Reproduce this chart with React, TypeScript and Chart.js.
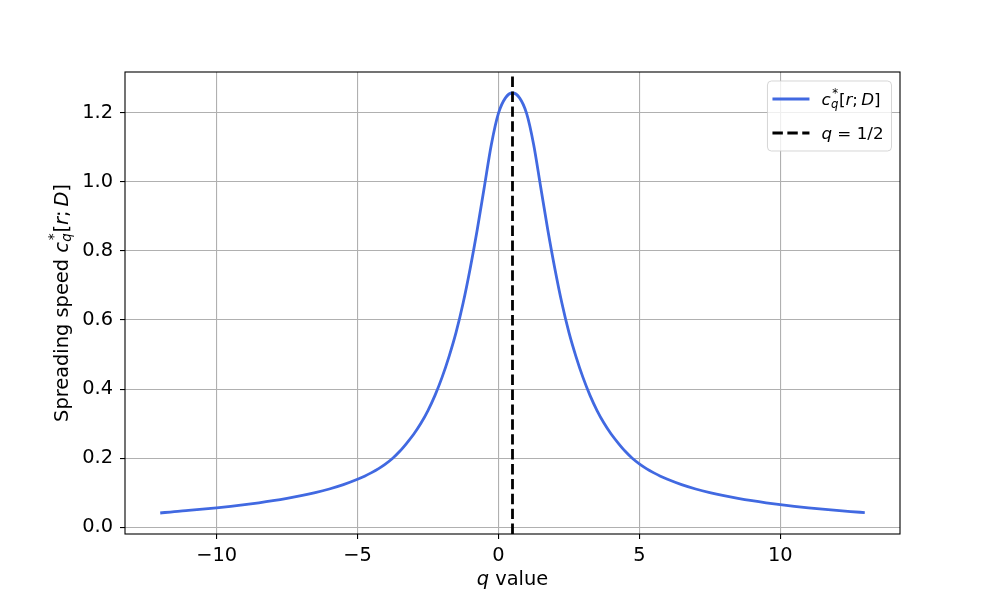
import React, { useEffect, useRef } from "react";
import { Chart, registerables } from "chart.js";

Chart.register(...registerables);

// ---- data ----
const qValues = [
  -12, -11.5, -11, -10.5, -10, -9.5, -9, -8.5, -8, -7.5, -7, -6.5, -6, -5.5, -5,
  -4.75, -4.5, -4.25, -4, -3.75, -3.5, -3.25, -3, -2.75, -2.5, -2.25, -2, -1.75, -1.5, -1.25,
  -1, -0.75, -0.5, -0.25, 0, 0.25, 0.5, 0.75, 1, 1.25, 1.5, 1.75, 2, 2.25, 2.5, 2.75, 3,
  3.25, 3.5, 3.75, 4, 4.25, 4.5, 4.75, 5, 5.25, 5.5, 5.75,
  6, 6.5, 7, 7.5, 8, 8.5, 9, 9.5, 10, 10.5, 11, 11.5, 12, 12.5, 13,
];
const cValues = [
  0.0415, 0.0457, 0.049, 0.0526, 0.0566, 0.0609, 0.0657, 0.071, 0.077, 0.0838, 0.0915, 0.1005,
  0.111, 0.1235, 0.139,
  0.148, 0.1583, 0.17, 0.1838, 0.2, 0.22, 0.244, 0.27, 0.301, 0.338, 0.382, 0.434, 0.495, 0.565,
  0.65, 0.75, 0.862, 0.985, 1.108, 1.198, 1.243, 1.257, 1.243, 1.198, 1.108, 0.985, 0.862, 0.75,
  0.65, 0.565, 0.495, 0.434, 0.382, 0.338, 0.301, 0.27, 0.244, 0.22, 0.2, 0.1838, 0.17, 0.1583,
  0.148,
  0.139, 0.1235, 0.111, 0.1005, 0.0915, 0.0838, 0.077, 0.071, 0.0657, 0.0609, 0.0566, 0.0526,
  0.049, 0.0457, 0.0427,
];
const halfLineQ = 0.5;
const xTickValues = [-10, -5, 0, 5, 10];
const yTickValues = [0, 0.2, 0.4, 0.6, 0.8, 1.0, 1.2];

const FONT = "'DejaVu Sans', 'Liberation Sans', sans-serif";
const LABEL_SIZE = 19.4;
const LEGEND_SIZE = 16.7;

type Seg = { t: string; it?: boolean; sub?: string; sup?: string };

const yLabelSegs: Seg[] = [
  { t: "Spreading speed " },
  { t: "c", it: true, sub: "q", sup: "*" },
  { t: "[" },
  { t: "r", it: true },
  { t: ";\u2009" },
  { t: "D", it: true },
  { t: "]" },
];
const xLabelSegs: Seg[] = [{ t: "q", it: true }, { t: " value" }];
const legendCurveSegs: Seg[] = [
  { t: "c", it: true, sub: "q", sup: "*" },
  { t: "[" },
  { t: "r", it: true },
  { t: ";\u2009" },
  { t: "D", it: true },
  { t: "]" },
];
const legendLineSegs: Seg[] = [{ t: "q", it: true }, { t: " = 1/2" }];

function fontStr(size: number, it?: boolean) {
  return `${it ? "italic " : ""}${size}px ${FONT}`;
}

function segWidth(ctx: CanvasRenderingContext2D, s: Seg, size: number) {
  ctx.font = fontStr(size, s.it);
  let w = ctx.measureText(s.t).width;
  if (s.sub || s.sup) {
    const ss = size * 0.7;
    let extra = 0;
    if (s.sub) {
      ctx.font = fontStr(ss, true);
      extra = Math.max(extra, ctx.measureText(s.sub).width);
    }
    if (s.sup) {
      ctx.font = fontStr(ss, false);
      extra = Math.max(extra, ctx.measureText(s.sup).width + size * 0.08);
    }
    w += extra + size * 0.05;
  }
  return w;
}

function mathWidth(ctx: CanvasRenderingContext2D, segs: Seg[], size: number) {
  return segs.reduce((a, s) => a + segWidth(ctx, s, size), 0);
}

function drawMath(
  ctx: CanvasRenderingContext2D,
  segs: Seg[],
  x: number,
  y: number,
  size: number,
  align: "left" | "center"
) {
  const total = mathWidth(ctx, segs, size);
  let cx = align === "center" ? x - total / 2 : x;
  ctx.textAlign = "left";
  ctx.textBaseline = "alphabetic";
  ctx.fillStyle = "#000";
  for (const s of segs) {
    ctx.font = fontStr(size, s.it);
    ctx.fillText(s.t, cx, y);
    const bw = ctx.measureText(s.t).width;
    if (s.sub || s.sup) {
      const ss = size * 0.7;
      const bx = cx + bw + size * 0.02;
      if (s.sup) {
        ctx.font = fontStr(ss, false);
        ctx.fillText(s.sup, bx + size * 0.08, y - size * 0.5);
      }
      if (s.sub) {
        ctx.font = fontStr(ss, true);
        ctx.fillText(s.sub, bx, y + size * 0.15);
      }
    }
    cx += segWidth(ctx, s, size);
  }
}

const decorPlugin = {
  id: "decor",
  afterDatasetsDraw(chart: any) {
    const { ctx, chartArea } = chart;
    const { left, right, top, bottom } = chartArea;
    ctx.save();
    // axes frame (spines)
    ctx.strokeStyle = "#000";
    ctx.lineWidth = 1.1;
    ctx.strokeRect(left, top, right - left, bottom - top);

    // legend
    const fs = LEGEND_SIZE;
    const w1 = mathWidth(ctx, legendCurveSegs, fs);
    const w2 = mathWidth(ctx, legendLineSegs, fs);
    const boxR = right - 8.5;
    const boxT = top + 9;
    const boxW = 54 + Math.max(w1, w2) + 8;
    const boxL = boxR - boxW;
    const boxH = 70;
    const r = 4;
    ctx.beginPath();
    ctx.moveTo(boxL + r, boxT);
    ctx.lineTo(boxR - r, boxT);
    ctx.quadraticCurveTo(boxR, boxT, boxR, boxT + r);
    ctx.lineTo(boxR, boxT + boxH - r);
    ctx.quadraticCurveTo(boxR, boxT + boxH, boxR - r, boxT + boxH);
    ctx.lineTo(boxL + r, boxT + boxH);
    ctx.quadraticCurveTo(boxL, boxT + boxH, boxL, boxT + boxH - r);
    ctx.lineTo(boxL, boxT + r);
    ctx.quadraticCurveTo(boxL, boxT, boxL + r, boxT);
    ctx.closePath();
    ctx.fillStyle = "rgba(255,255,255,0.8)";
    ctx.fill();
    ctx.strokeStyle = "rgba(204,204,204,0.8)";
    ctx.lineWidth = 1;
    ctx.stroke();

    // handles
    const hx0 = boxL + 5;
    const hx1 = boxL + 42;
    ctx.lineWidth = 2.8;
    ctx.lineCap = "butt";
    ctx.strokeStyle = "#4169e1";
    ctx.beginPath();
    ctx.moveTo(hx0, boxT + 18);
    ctx.lineTo(hx1, boxT + 18);
    ctx.stroke();
    ctx.strokeStyle = "#000";
    ctx.setLineDash([10.4, 4.5]);
    ctx.beginPath();
    ctx.moveTo(hx0, boxT + 52);
    ctx.lineTo(hx1, boxT + 52);
    ctx.stroke();
    ctx.setLineDash([]);

    drawMath(ctx, legendCurveSegs, boxL + 54, boxT + 24.3, fs, "left");
    drawMath(ctx, legendLineSegs, boxL + 54, boxT + 57.7, fs, "left");
    ctx.restore();
  },
  afterDraw(chart: any) {
    const { ctx, chartArea } = chart;
    const { left, right, top, bottom } = chartArea;
    ctx.save();
    // x axis label
    drawMath(ctx, xLabelSegs, (left + right) / 2, 585, LABEL_SIZE, "center");
    // y axis label, rotated
    ctx.translate(68, (top + bottom) / 2);
    ctx.rotate(-Math.PI / 2);
    drawMath(ctx, yLabelSegs, 0, 0, LABEL_SIZE, "center");
    ctx.restore();
  },
};

export default function App() {
  const ref = useRef<HTMLCanvasElement>(null);

  useEffect(() => {
    const canvas = ref.current;
    if (!canvas) return;
    const dMin = Math.min(...cValues);
    const dMax = Math.max(...cValues);
    const yRange = dMax - dMin;
    const yMin = dMin - 0.05 * yRange;
    const yMax = dMax + 0.05 * yRange;
    const qMin = qValues[0];
    const qMax = qValues[qValues.length - 1];
    const xRange = qMax - qMin;
    const xMin = qMin - 0.05 * xRange;
    const xMax = qMax + 0.05 * xRange;

    const tickFont = { family: FONT, size: LABEL_SIZE };
    const gridCfg = {
      color: "#b0b0b0",
      lineWidth: 1.1,
      tickLength: 5,
      tickColor: "#000",
      tickWidth: 1.1,
    };

    const chart = new Chart(canvas, {
      type: "line",
      data: {
        datasets: [
          {
            label: "q = 1/2",
            data: [
              { x: halfLineQ, y: yMin },
              { x: halfLineQ, y: yMax },
            ],
            borderColor: "#000",
            borderWidth: 2.8,
            borderDash: [10.4, 4.5],
            borderCapStyle: "butt",
            pointRadius: 0,
            fill: false,
          },
          {
            label: "c_q^*[r;D]",
            data: qValues.map((q, i) => ({ x: q, y: cValues[i] })),
            borderColor: "#4169e1",
            borderWidth: 2.8,
            pointRadius: 0,
            cubicInterpolationMode: "monotone",
            fill: false,
          },
        ],
      },
      options: {
        animation: false,
        responsive: false,
        events: [],
        layout: { padding: { top: 72, right: 100, left: 0, bottom: 0 } },
        plugins: {
          legend: { display: false },
          tooltip: { enabled: false },
          title: { display: false },
        },
        scales: {
          x: {
            type: "linear",
            min: xMin,
            max: xMax,
            afterBuildTicks: (s: any) => {
              s.ticks = xTickValues.map((v) => ({ value: v }));
            },
            afterFit: (s: any) => {
              s.height = 66;
            },
            grid: gridCfg,
            border: { display: false },
            ticks: {
              color: "#000",
              font: tickFont,
              padding: 5,
              maxRotation: 0,
              autoSkip: false,
              callback: (v: any) => {
                const n = Number(v);
                return n < 0 ? "\u2212" + Math.abs(n) : String(n);
              },
            },
          },
          y: {
            type: "linear",
            min: yMin,
            max: yMax,
            afterBuildTicks: (s: any) => {
              s.ticks = yTickValues.map((v) => ({ value: v }));
            },
            afterFit: (s: any) => {
              s.width = 125;
            },
            grid: gridCfg,
            border: { display: false },
            ticks: {
              color: "#000",
              font: tickFont,
              padding: 7,
              autoSkip: false,
              callback: (v: any) => Number(v).toFixed(1),
            },
          },
        },
      } as any,
      plugins: [decorPlugin],
    });
    return () => chart.destroy();
  }, []);

  return (
    <div
      style={{
        position: "fixed",
        left: 0,
        top: 0,
        width: 1000,
        height: 600,
        background: "#fff",
      }}
    >
      <canvas ref={ref} width={1000} height={600} style={{ display: "block" }} />
    </div>
  );
}
